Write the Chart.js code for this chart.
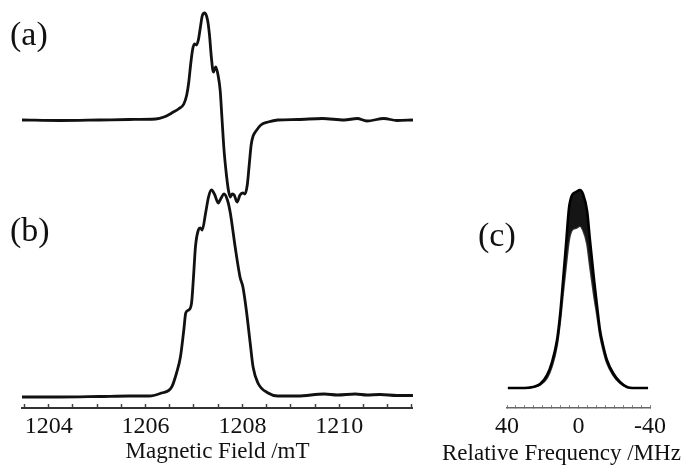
<!DOCTYPE html>
<html>
<head>
<meta charset="utf-8">
<script src="https://cdn.jsdelivr.net/npm/chart.js@4.4.0/dist/chart.umd.min.js"></script>
<style>
  html, body { margin: 0; padding: 0; background: #fff; overflow: hidden; }
  #wrap { position: relative; width: 686px; height: 466px; }
  #fieldChart { position: absolute; left: 0; top: 0; }
  #freqChart { position: absolute; left: 440px; top: 0; }
</style>
</head>
<body>
<div id="wrap">
  <canvas id="fieldChart" width="420" height="466"></canvas>
  <canvas id="freqChart" width="246" height="466"></canvas>
</div>
<script>
// (a) first-derivative spectrum, field in mT, intensity in arbitrary units
var fieldA = [1203.45, 1204.23, 1205.04, 1205.66, 1206.21, 1206.38, 1206.54, 1206.68, 1206.79, 1206.85,
  1206.89, 1206.93, 1206.97, 1207.01, 1207.05, 1207.09, 1207.13, 1207.17, 1207.22, 1207.28,
  1207.32, 1207.36, 1207.40, 1207.45, 1207.50, 1207.54, 1207.58, 1207.62, 1207.67, 1207.71,
  1207.75, 1207.79, 1207.83, 1207.89, 1207.95, 1208.01, 1208.05, 1208.10, 1208.14, 1208.18,
  1208.22, 1208.28, 1208.38, 1208.53, 1208.73, 1209.14, 1209.65, 1210.10, 1210.37, 1210.57,
  1210.92, 1211.19, 1211.52];
var signalA = [0, -0.5, 0, 0.5, 1, 3, 7, 11, 16, 25,
  37, 55, 70, 76, 75, 80, 92, 104, 107, 100,
  85, 62, 48, 53, 44, 30, 0, -30, -55, -70,
  -77, -74, -75, -82, -75, -73, -74, -65, -45, -25,
  -16, -11, -5, -2, 0, 0.5, 1.5, 0, 1.5, -1,
  1.5, -0.5, 0];

// (b) absorption spectrum
var fieldB = [1203.45, 1204.23, 1205.04, 1205.66, 1206.07, 1206.33, 1206.54, 1206.64, 1206.72, 1206.79,
  1206.83, 1206.89, 1206.95, 1206.99, 1207.03, 1207.09, 1207.13, 1207.17, 1207.24, 1207.30,
  1207.36, 1207.43, 1207.50, 1207.56, 1207.62, 1207.69, 1207.75, 1207.85, 1207.95, 1208.01,
  1208.08, 1208.16, 1208.22, 1208.32, 1208.53, 1208.73, 1209.14, 1209.69, 1209.96, 1210.33,
  1210.57, 1210.84, 1211.19, 1211.52];
var signalB = [-1, -1, -0.5, 0, 0, 3, 9, 23, 39, 66,
  83, 86, 93, 119, 149, 166, 168, 166, 183, 199,
  206, 201, 193, 198, 202, 196, 183, 149, 119, 109,
  86, 53, 29, 13, 3, 0, 0, 2, 1, 2,
  1, 1.5, 0.5, 0.5];

// (c) spectra vs relative frequency (MHz): upper and lower envelope of the overlaid traces
var freqC = [39.5, 30, 25.5, 21.5, 17.6, 14.8, 12.0, 10.3, 8.7, 7.0,
  5.3, 3.6, 1.4, -0.8, -2.5, -4.8, -6.4, -8.7, -10.3, -12,
  -13.7, -15.9, -19.3, -23.2, -27.1, -30, -38.9];
var upperC = [0, 0, 1, 4, 13, 26, 48, 73, 106, 143,
  180, 193, 196, 198, 194, 177, 148, 108, 83, 58,
  43, 28, 15, 6, 1, 0, 0];
var lowerC = [0, 0, 1, 3, 10, 22, 43, 66, 94, 122,
  148, 158, 160, 162, 158, 144, 122, 92, 74, 53,
  39, 25, 13, 5, 1, 0, 0];

var fieldTicks = [1204, 1206, 1208, 1210];
var freqTicks = [40, 0, -40];

function toPoints(xs, ys) {
  return xs.map(function (x, i) { return { x: x, y: ys[i] }; });
}
function isLabelled(list, v) {
  return list.some(function (t) { return Math.abs(t - v) < 1e-6; });
}

var serif = 'Liberation Serif';

// draws free text (panel letters, clipped axis title)
var textLabels = {
  id: 'textLabels',
  afterDraw: function (chart, args, opts) {
    var ctx = chart.ctx;
    ctx.save();
    ctx.fillStyle = '#111';
    ctx.textBaseline = 'alphabetic';
    opts.items.forEach(function (it) {
      ctx.font = it.size + 'px "' + serif + '"';
      ctx.textAlign = 'left';
      ctx.fillText(it.text, it.x, it.y);
    });
    ctx.restore();
  }
};

var lineStyle = {
  borderColor: '#111',
  borderWidth: 2.8,
  pointRadius: 0,
  fill: false,
  cubicInterpolationMode: 'monotone'
};

new Chart(document.getElementById('fieldChart'), {
  type: 'line',
  data: {
    datasets: [
      Object.assign({ label: '(a)', data: toPoints(fieldA, signalA), yAxisID: 'yA' }, lineStyle),
      Object.assign({ label: '(b)', data: toPoints(fieldB, signalB), yAxisID: 'yB' }, lineStyle)
    ]
  },
  plugins: [textLabels],
  options: {
    responsive: false,
    animation: false,
    layout: { padding: { left: 22, right: 3, top: 0, bottom: 0 } },
    plugins: {
      legend: { display: false },
      tooltip: { enabled: false },
      textLabels: {
        items: [
          { text: '(a)', x: 10, y: 45, size: 34 },
          { text: '(b)', x: 10, y: 241, size: 34 }
        ]
      }
    },
    scales: {
      x: {
        type: 'linear',
        min: 1203.45,
        max: 1211.52,
        border: { color: '#333', width: 2 },
        grid: { drawOnChartArea: false, tickLength: -4, color: '#444', tickWidth: 1.5 },
        ticks: {
          stepSize: 0.5,
          includeBounds: false,
          autoSkip: false,
          maxRotation: 0,
          padding: 8,
          color: '#111',
          font: { family: serif, size: 24 },
          callback: function (v) { return isLabelled(fieldTicks, v) ? String(Math.round(v)) : ''; }
        },
        title: {
          display: true,
          text: 'Magnetic Field /mT',
          color: '#111',
          font: { family: serif, size: 23 },
          padding: { top: 0, bottom: 0 }
        },
        afterFit: function (s) { s.height = 58; }
      },
      yA: { type: 'linear', display: false, min: -288, max: 120 },
      yB: { type: 'linear', display: false, min: -12, max: 396 }
    }
  }
});

new Chart(document.getElementById('freqChart'), {
  type: 'line',
  data: {
    datasets: [
      {
        label: 'upper',
        data: toPoints(freqC, upperC),
        borderColor: '#000',
        borderWidth: 2.6,
        pointRadius: 0,
        fill: '+1',
        backgroundColor: '#151515',
        cubicInterpolationMode: 'monotone'
      },
      {
        label: 'lower',
        data: toPoints(freqC, lowerC),
        borderColor: '#3a3a3a',
        borderWidth: 2,
        pointRadius: 0,
        fill: false,
        cubicInterpolationMode: 'monotone'
      }
    ]
  },
  plugins: [textLabels],
  options: {
    responsive: false,
    animation: false,
    layout: { padding: { left: 67, right: 36, top: 0, bottom: 0 } },
    plugins: {
      legend: { display: false },
      tooltip: { enabled: false },
      filler: { propagate: false },
      textLabels: {
        items: [
          { text: '(c)', x: 38, y: 246, size: 34 },
          { text: 'Relative Frequency /MHz', x: 2, y: 460, size: 23 }
        ]
      }
    },
    scales: {
      x: {
        type: 'linear',
        reverse: true,
        min: -40,
        max: 40,
        border: { color: '#666', width: 1.5 },
        grid: { drawOnChartArea: false, tickLength: -3, color: '#888', tickWidth: 1 },
        ticks: {
          stepSize: 5,
          includeBounds: false,
          autoSkip: false,
          maxRotation: 0,
          padding: 7,
          color: '#111',
          font: { family: serif, size: 24 },
          callback: function (v) { return isLabelled(freqTicks, v) ? String(Math.round(v)) : ''; }
        },
        afterFit: function (s) { s.height = 58; }
      },
      y: { type: 'linear', display: false, min: -20, max: 388 }
    }
  }
});
</script>
</body>
</html>
